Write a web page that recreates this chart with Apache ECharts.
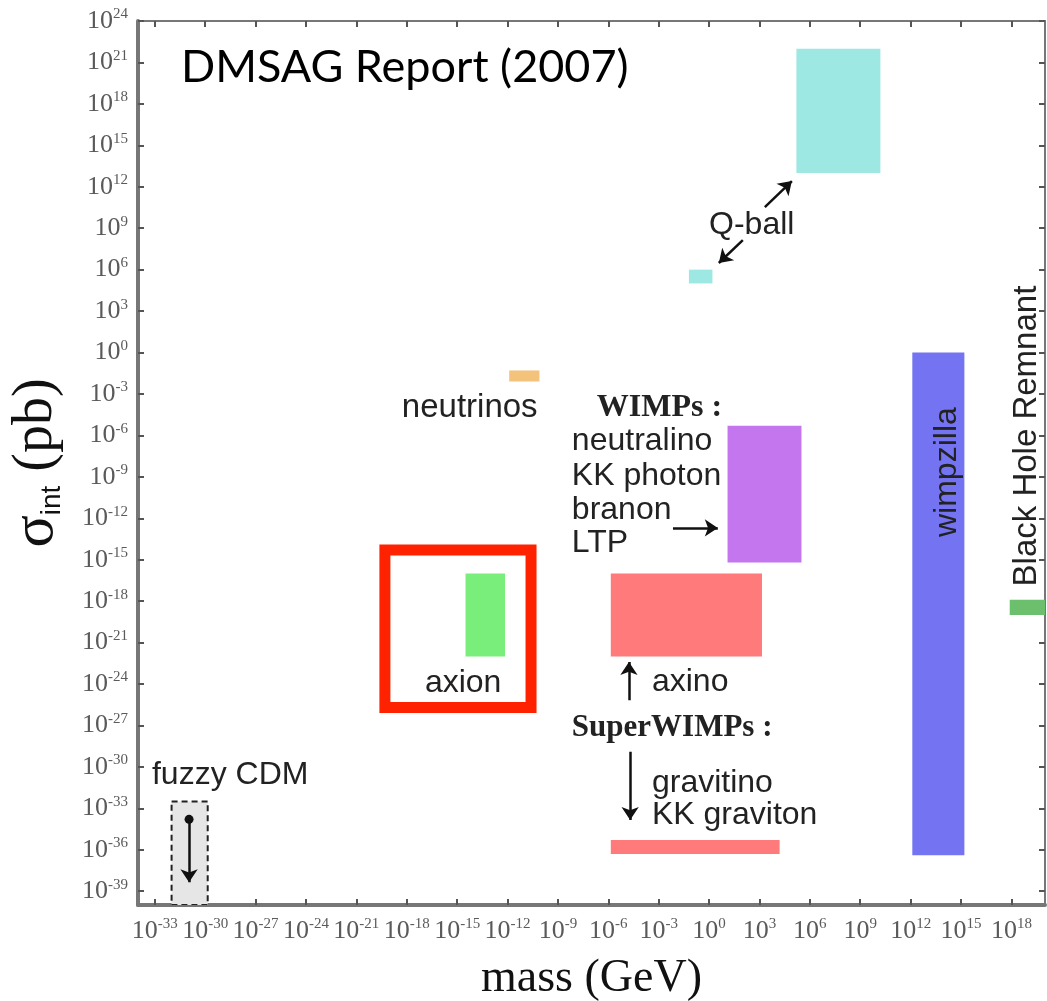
<!DOCTYPE html>
<html>
<head>
<meta charset="utf-8">
<script src="https://cdn.jsdelivr.net/npm/echarts@6/dist/echarts.min.js"></script>
<style>
  html, body { margin: 0; padding: 0; background: #fff; }
  #main { width: 1047px; height: 1001px; }
</style>
</head>
<body>
<div id="main"></div>
<script>
// every value is a log10 exponent: mass in GeV, sigma_int in pb
const xTicks = [-33, -30, -27, -24, -21, -18, -15, -12, -9, -6, -3, 0, 3, 6, 9, 12, 15, 18];
const yTicks = [-39, -36, -33, -30, -27, -24, -21, -18, -15, -12, -9, -6, -3, 0, 3, 6, 9, 12, 15, 18, 21, 24];

const boxNames = ['Q-ball heavy', 'Q-ball light', 'neutrinos', 'WIMPs', 'axion', 'axino', 'gravitino', 'wimpzilla', 'Black Hole Remnant', 'fuzzy CDM'];
const boxMassLo = [5.2, -1.2, -11.9, 1.1, -14.5, -5.85, -5.85, 12.1, 17.9, -32];
const boxMassHi = [10.2, 0.2, -10.1, 5.5, -12.15, 3.15, 4.2, 15.2, 20, -29.85];
const boxSigmaLo = [13, 5, -2.1, -15.2, -22, -22, -36.3, -36.4, -19, -40];
const boxSigmaHi = [22, 6, -1.3, -5.3, -16, -16, -35.3, 0, -17.9, -32.5];

// the red frame around axion
const frameMass = [-19.3, -10.6];
const frameSigma = [-25.7, -14.3];

const labelTexts = ['Q-ball', 'neutrinos', 'WIMPs :', 'neutralino', 'KK photon', 'branon', 'LTP', 'axion', 'axino',
  'SuperWIMPs :', 'gravitino', 'KK graviton', 'fuzzy CDM', 'wimpzilla', 'Black Hole Remnant'];
const labelMass = [0, -18.29, -6.68, -8.17, -8.17, -8.17, -8.17, -16.92, -3.4, -8.17, -3.4, -3.4, -33.17, 14.2, 18.92];
const labelSigma = [9.23, -4.02, -4.02, -6.41, -8.95, -11.41, -13.8, -23.94, -23.86, -27.2, -31.18, -33.5, -30.6, -8.66, -6.05];

const arrowFromMass = [3.32, 2.01, -2.15, -4.77, -4.7];
const arrowFromSigma = [10.53, 8.14, -12.7, -25.17, -28.9];
const arrowToMass = [4.93, 0.58, 0.52, -4.77, -4.7];
const arrowToSigma = [12.41, 6.48, -12.7, -22.4, -33.85];
// fuzzy CDM upper limit arrow (dot -> arrow)
const fuzzyArrowMass = [-30.96, -30.96];
const fuzzyArrowSigma = [-33.8, -38.35];

const boxColors = {
  'Q-ball heavy': '#9de8e3',
  'Q-ball light': '#9de8e3',
  'neutrinos': '#f3c37c',
  'WIMPs': '#c376ee',
  'axion': '#7aee7a',
  'axino': '#ff7b7b',
  'gravitino': '#ff7b7b',
  'wimpzilla': '#7474f2',
  'Black Hole Remnant': '#6cbf6c',
  'fuzzy CDM': '#e6e6e6'
};

const sansFont = '"Liberation Sans", Arial, sans-serif';
const serifFont = '"Liberation Serif", "Times New Roman", serif';

const labelStyles = {
  'neutrinos': { font: '33px ' + sansFont },
  'WIMPs :': { font: 'bold 32px ' + serifFont },
  'SuperWIMPs :': { font: 'bold 31px ' + serifFont },
  'wimpzilla': { rotate: true },
  'Black Hole Remnant': { rotate: true, font: '33px ' + sansFont }
};

const tickLabel = {
  show: true,
  formatter: function (v) {
    return '{b|10}{e|' + v + '}';
  },
  rich: {
    b: { fontSize: 26, fontFamily: serifFont, color: '#5a5a5a', lineHeight: 28 },
    e: { fontSize: 15, fontFamily: serifFont, color: '#5a5a5a', verticalAlign: 'top', lineHeight: 15 }
  }
};

const chart = echarts.init(document.getElementById('main'));

const boxData = boxNames.map(function (n, i) {
  return [boxMassLo[i], boxMassHi[i], boxSigmaLo[i], boxSigmaHi[i], i];
});

const frameAxis = function (pos, width) {
  return {
    type: 'value',
    position: pos,
    axisLine: { show: true, onZero: false, lineStyle: { color: '#777', width: width } },
    splitLine: { show: false }
  };
};

const option = {
  animation: false,
  backgroundColor: '#fff',
  title: {
    text: 'DMSAG Report (2007)',
    left: 176,
    top: 40,
    textStyle: { fontFamily: 'Lato, "Open Sans", sans-serif', fontSize: 45, fontWeight: 'normal', color: '#000' }
  },
  grid: { left: 138, right: 2, top: 21, bottom: 96, outerBoundsMode: 'none', containLabel: false },
  xAxis: [
    Object.assign(frameAxis('bottom', 4), {
      min: -34,
      max: 20,
      name: 'mass (GeV)',
      nameLocation: 'middle',
      nameGap: 51,
      nameTextStyle: { fontFamily: serifFont, fontSize: 46, color: '#111' },
      axisTick: { show: true, inside: true, length: 6, customValues: xTicks, lineStyle: { color: '#555', width: 2 } },
      axisLabel: Object.assign({}, tickLabel, { customValues: xTicks, margin: 12 })
    }),
    Object.assign(frameAxis('top', 2), {
      min: -34,
      max: 20,
      axisTick: { show: true, inside: true, length: 6, customValues: xTicks, lineStyle: { color: '#555', width: 2 } },
      axisLabel: { show: false }
    })
  ],
  yAxis: [
    Object.assign(frameAxis('left', 4), {
      min: -40,
      max: 24,
      name: '{s|σ}{sub|int}{p| (pb)}',
      nameLocation: 'middle',
      nameRotate: 90,
      nameGap: 72,
      nameTextStyle: {
        rich: {
          s: { fontFamily: serifFont, fontSize: 60, color: '#111' },
          sub: { fontFamily: sansFont, fontSize: 28, color: '#111', verticalAlign: 'bottom', padding: [18, 0, 0, 0] },
          p: { fontFamily: serifFont, fontSize: 56, color: '#111' }
        }
      },
      axisTick: { show: true, inside: true, length: 6, customValues: yTicks, lineStyle: { color: '#555', width: 2 } },
      axisLabel: Object.assign({}, tickLabel, { customValues: yTicks, margin: 10 })
    }),
    Object.assign(frameAxis('right', 2), {
      min: -40,
      max: 24,
      axisTick: { show: true, inside: true, length: 6, customValues: yTicks, lineStyle: { color: '#555', width: 2 } },
      axisLabel: { show: false }
    })
  ],
  series: [
    {
      type: 'custom',
      name: 'regions',
      coordinateSystem: 'cartesian2d',
      data: boxData,
      clip: true,
      renderItem: function (params, api) {
        const p0 = api.coord([api.value(0), api.value(3)]);
        const p1 = api.coord([api.value(1), api.value(2)]);
        const name = boxNames[api.value(4)];
        const dashed = name === 'fuzzy CDM';
        return {
          type: 'rect',
          shape: { x: p0[0], y: p0[1], width: p1[0] - p0[0], height: p1[1] - p0[1] },
          style: {
            fill: boxColors[name],
            stroke: dashed ? '#222' : null,
            lineWidth: dashed ? 2 : 0,
            lineDash: dashed ? [6, 4] : null
          }
        };
      }
    },
    {
      type: 'custom',
      name: 'frame',
      coordinateSystem: 'cartesian2d',
      data: [[frameMass[0], frameMass[1], frameSigma[0], frameSigma[1]]],
      renderItem: function (params, api) {
        const p0 = api.coord([api.value(0), api.value(3)]);
        const p1 = api.coord([api.value(1), api.value(2)]);
        return {
          type: 'rect',
          shape: { x: p0[0], y: p0[1], width: p1[0] - p0[0], height: p1[1] - p0[1] },
          style: { fill: 'none', stroke: '#ff2200', lineWidth: 11 }
        };
      }
    },
    {
      type: 'lines',
      coordinateSystem: 'cartesian2d',
      symbol: ['none', 'arrow'],
      symbolSize: [0, 13],
      lineStyle: { color: '#111', width: 2.5, opacity: 1 },
      data: arrowFromMass.map(function (x, i) {
        return { coords: [[x, arrowFromSigma[i]], [arrowToMass[i], arrowToSigma[i]]] };
      })
    },
    {
      type: 'lines',
      coordinateSystem: 'cartesian2d',
      symbol: ['circle', 'arrow'],
      symbolSize: [9, 13],
      lineStyle: { color: '#111', width: 2.5, opacity: 1 },
      data: [{ coords: [[fuzzyArrowMass[0], fuzzyArrowSigma[0]], [fuzzyArrowMass[1], fuzzyArrowSigma[1]]] }]
    },
    {
      type: 'custom',
      name: 'labels',
      coordinateSystem: 'cartesian2d',
      data: labelTexts.map(function (t, i) { return [labelMass[i], labelSigma[i], i]; }),
      renderItem: function (params, api) {
        const p = api.coord([api.value(0), api.value(1)]);
        const text = labelTexts[api.value(2)];
        const st = labelStyles[text] || {};
        return {
          type: 'text',
          x: p[0],
          y: p[1],
          rotation: st.rotate ? Math.PI / 2 : 0,
          style: {
            text: text,
            font: st.font || ('32px ' + sansFont),
            fill: '#222',
            align: st.rotate ? 'center' : 'left',
            verticalAlign: 'middle'
          }
        };
      }
    }
  ]
};

option && chart.setOption(option);
</script>
</body>
</html>
